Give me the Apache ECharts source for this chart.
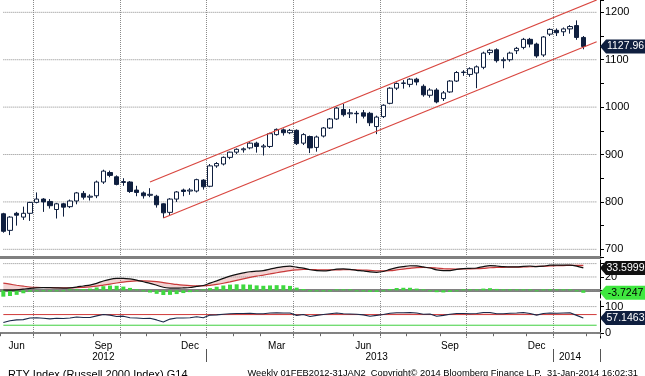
<!DOCTYPE html>
<html>
<head>
<meta charset="utf-8">
<title>RTY Index weekly</title>
<script src="https://cdn.jsdelivr.net/npm/echarts@6/dist/echarts.min.js"></script>
<style>
html, body { margin: 0; padding: 0; background: #fff; }
#main { width: 645px; height: 376px; }
</style>
</head>
<body>
<div id="main"></div>
<script>
// weekly bars (friday dates), two empty weeks of space on the right
var weeks = [
  '2012-06-01','2012-06-08','2012-06-15','2012-06-22','2012-06-29','2012-07-06','2012-07-13','2012-07-20','2012-07-27','2012-08-03',
  '2012-08-10','2012-08-17','2012-08-24','2012-08-31','2012-09-07','2012-09-14','2012-09-21','2012-09-28','2012-10-05','2012-10-12',
  '2012-10-19','2012-10-26','2012-11-02','2012-11-09','2012-11-16','2012-11-23','2012-11-30','2012-12-07','2012-12-14','2012-12-21',
  '2012-12-28','2013-01-04','2013-01-11','2013-01-18','2013-01-25','2013-02-01','2013-02-08','2013-02-15','2013-02-22','2013-03-01',
  '2013-03-08','2013-03-15','2013-03-22','2013-03-29','2013-04-05','2013-04-12','2013-04-19','2013-04-26','2013-05-03','2013-05-10',
  '2013-05-17','2013-05-24','2013-05-31','2013-06-07','2013-06-14','2013-06-21','2013-06-28','2013-07-05','2013-07-12','2013-07-19',
  '2013-07-26','2013-08-02','2013-08-09','2013-08-16','2013-08-23','2013-08-30','2013-09-06','2013-09-13','2013-09-20','2013-09-27',
  '2013-10-04','2013-10-11','2013-10-18','2013-10-25','2013-11-01','2013-11-08','2013-11-15','2013-11-22','2013-11-29','2013-12-06',
  '2013-12-13','2013-12-20','2013-12-27','2014-01-03','2014-01-10','2014-01-17','2014-01-24','2014-01-31','2014-02-07','2014-02-14'
];

var opens = [
  775,740,776,768,776,799,806,801,784,796,
  790,802,818,810,813,842,862,853,841,842,
  825,819,814,812,796,778,806,825,823,823,
  846,833,876,880,894,905,910,914,924,916,
  917,942,952,946,951,924,938,915,939,956,
  975,995,986,987,988,987,959,980,1008,1040,
  1050,1048,1059,1044,1025,1036,1018,1032,1055,1073,
  1069,1072,1084,1115,1121,1098,1100,1119,1126,1143,
  1133,1110,1154,1162,1159,1165,1172,1147
];
var closes = [
  738,768,772,776,799,806,800,792,796,789,
  802,819,810,812,842,865,856,837,843,822,
  820,813,816,794,777,806,821,822,825,847,
  832,876,881,894,905,911,912,924,917,918,
  944,953,946,951,923,942,914,937,956,975,
  998,984,988,986,981,967,979,1004,1040,1050,
  1051,1059,1053,1026,1036,1011,1030,1055,1073,1074,
  1081,1085,1114,1120,1098,1100,1114,1124,1143,1133,
  1108,1148,1164,1157,1165,1170,1147,1127.96
];
var lows = [
  735,730,750,762,760,797,779,786,765,769,
  787,795,805,803,808,838,852,835,834,819,
  812,807,810,788,766,771,800,812,815,820,
  826,831,872,877,890,901,904,911,904,898,
  914,940,940,943,920,920,903,906,936,954,
  973,980,977,966,976,960,943,977,1006,1036,
  1039,1042,1046,1022,1020,1008,1013,1030,1053,1066,
  1064,1040,1080,1110,1094,1082,1096,1112,1122,1126,
  1104,1106,1150,1150,1150,1155,1142,1122
];
var highs = [
  777,770,779,790,800,820,808,806,798,798,
  805,821,823,816,845,868,866,856,850,844,
  834,822,829,815,797,808,823,828,829,849,
  848,880,884,896,906,913,915,926,927,922,
  946,955,955,954,953,945,940,940,958,977,
  1000,1007,996,992,994,990,982,1006,1042,1052,
  1057,1061,1062,1048,1040,1040,1034,1057,1076,1078,
  1084,1088,1117,1123,1124,1105,1117,1127,1146,1146,
  1136,1150,1166,1166,1168,1173,1183,1150
];

// trend channel drawn on the chart
var channelUpper = [['2012-11-02', 842], ['2014-02-14', 1226]];
var channelLower = [['2012-11-16', 766], ['2014-02-14', 1138]];

// MACD panel
var macdLine = [
  0.5,0.3,0.8,1.8,3.0,3.8,4.0,3.9,3.6,3.4,
  3.8,5.0,6.5,7.8,10.5,14.0,16.5,17.8,18.0,17.0,
  15.2,12.8,10.5,7.6,4.6,3.4,3.2,3.6,4.2,5.8,
  7.2,10.8,14.2,17.8,21.2,24.0,26.0,27.8,28.6,29.6,
  31.8,34.0,35.6,36.2,34.6,33.2,30.8,29.4,29.2,30.0,
  31.6,32.0,31.4,30.0,29.0,27.6,27.0,28.2,31.4,34.0,
  35.6,36.8,36.6,35.0,33.4,30.6,29.4,29.6,31.4,32.6,
  33.0,33.4,35.6,37.0,36.4,35.4,35.2,35.0,36.0,36.4,
  35.4,36.2,37.6,37.8,37.6,37.6,36.2,33.5999
];
var signalLine = [
  10.8,9.2,7.6,6.2,5.0,4.4,4.2,4.0,3.8,3.7,
  3.7,4.0,4.5,5.2,6.2,7.8,9.4,11.0,12.4,13.4,
  14.0,14.2,13.8,12.9,11.6,10.2,8.8,7.7,6.9,6.6,
  6.7,7.5,8.8,10.6,12.7,15.0,17.2,19.3,21.2,22.8,
  24.5,26.3,28.0,29.6,30.6,31.2,31.2,30.9,30.7,30.5,
  30.6,30.8,30.9,30.8,30.4,29.9,29.3,29.0,29.4,30.5,
  31.8,33.0,34.0,34.2,34.1,33.4,32.6,32.0,31.8,31.9,
  32.1,32.4,33.0,33.8,34.3,34.5,34.6,34.7,35.0,35.3,
  35.8,36.0,36.4,36.8,37.1,37.3,37.4,37.3
];
var macdHist = [
  -9.5,-8.5,-6.8,-4.4,-2.0,-0.6,-0.2,-0.1,-0.2,-0.3,
  0.1,1.0,2.0,2.6,4.3,6.2,7.1,6.8,5.6,3.6,
  1.2,-1.4,-3.3,-5.3,-7.0,-6.8,-5.6,-4.1,-2.7,-0.8,
  0.5,3.3,5.4,7.2,8.5,9.0,8.8,8.5,7.4,6.8,
  7.3,7.7,7.6,6.6,4.0,2.0,-0.4,-1.5,-1.5,-0.5,
  1.0,1.2,0.5,-0.8,-1.4,-2.3,-2.3,-0.8,2.0,3.5,
  3.8,3.8,2.6,0.8,-0.7,-2.8,-3.2,-2.4,-0.4,0.7,
  0.9,1.0,2.6,3.2,2.1,0.9,0.6,0.3,1.0,1.1,
  -0.4,0.2,1.2,1.0,0.5,0.3,-1.2,-3.7247
];

// RSI panel
var rsiLine = [
  40,47,50,51,57,58,56,54,56,55,
  57,61,59,59,65,70,68,63,64,58,
  57,55,56,50,42,53,57,57,58,62,
  58,68,69,71,73,74,74,75,73,73,
  76,77,76,76,67,70,63,67,70,73,
  76,73,72,71,69,64,67,70,75,77,
  77,78,76,71,72,64,67,71,74,74,
  73,74,78,78,73,73,75,76,78,74,
  68,74,76,75,76,77,67,57.1463
];
var rsiHigh = 70;
var rsiLow = 30;

// grid levels and labels
var priceGrid = [700, 800, 900, 1000, 1100, 1200];
var macdGrid = [0, 20, 40];
var macdLabels = [20];
var rsiGrid = [0, 100];
var monthNames = ['Jan','Feb','Mar','Apr','May','Jun','Jul','Aug','Sep','Oct','Nov','Dec'];
var monthLabelWeeks = ['2012-06-15','2012-09-14','2012-12-14','2013-03-15','2013-06-14','2013-09-13','2013-12-13'];
var yearLabelWeeks = ['2012-09-14','2013-06-28','2014-01-17'];

var GRID_RIGHT = 45;
var FONT = '"Liberation Sans", Arial, sans-serif';
var NAVY = '#0f1f3f';
var DOT_COLOR = '#8a8a8a';

function monthOf(d) { return parseInt(d.substr(5, 2), 10); }
function dayOf(d) { return parseInt(d.substr(8, 2), 10); }
function monthStart(i, d) { return dayOf(d) <= 7; }
function quarterStart(i, d) { var m = monthOf(d); return dayOf(d) <= 7 && (m == 1 || m == 4 || m == 7 || m == 10); }
function yearStart(i, d) { return dayOf(d) <= 7 && monthOf(d) == 1; }

var candles = [];
for (var i = 0; i < opens.length; i++) {
  candles.push([opens[i], closes[i], lows[i], highs[i]]);
}
var firstWeek = weeks[0];
var lastWeek = weeks[weeks.length - 1];

// fill between macd and signal
function macdBand(params, api) {
  var pts = [];
  for (var i = 0; i < macdLine.length; i++) pts.push(api.coord([i, macdLine[i]]));
  for (var j = signalLine.length - 1; j >= 0; j--) pts.push(api.coord([j, signalLine[j]]));
  return { type: 'polygon', shape: { points: pts }, style: { fill: 'rgba(214,110,110,0.30)' }, silent: true };
}

// fill where rsi is above the upper band
function rsiBand(params, api) {
  var y70 = api.coord([0, rsiHigh])[1];
  var pts = [];
  var prev = null;
  for (var i = 0; i < rsiLine.length; i++) {
    var p = api.coord([i, rsiLine[i]]);
    if (prev && (prev[1] - y70) * (p[1] - y70) < 0) {
      var t = (y70 - prev[1]) / (p[1] - prev[1]);
      pts.push([prev[0] + t * (p[0] - prev[0]), y70]);
    }
    pts.push([p[0], Math.min(p[1], y70)]);
    prev = p;
  }
  pts.push([pts[pts.length - 1][0], y70]);
  pts.unshift([pts[0][0], y70]);
  return { type: 'polygon', shape: { points: pts }, style: { fill: 'rgba(214,110,110,0.30)' }, silent: true };
}

// flat line across a panel at one level
function levelLine(axisIndex, value, color, type) {
  return {
    type: 'line', xAxisIndex: axisIndex, yAxisIndex: axisIndex, symbol: 'none', silent: true, z: 2,
    data: [[firstWeek, value], [lastWeek, value]],
    lineStyle: { color: color, width: 1, type: type || 'solid' }
  };
}

// value axis on the right; min/max are the panel edges
function valueAxis(gridIndex, min, max, splitNumber, minorSplit, labels) {
  return {
    type: 'value', gridIndex: gridIndex, position: 'right',
    min: min, max: max, splitNumber: splitNumber,
    axisLine: { show: true, lineStyle: { color: '#000', width: 1 } },
    axisTick: { show: true, inside: false, length: 4, lineStyle: { color: '#000' } },
    minorTick: { show: minorSplit > 0, splitNumber: minorSplit || 2, length: 4, lineStyle: { color: '#000' } },
    axisLabel: { color: '#000', fontSize: 11, fontFamily: FONT, margin: 5,
      showMinLabel: false, showMaxLabel: false,
      formatter: function (v) { return labels.indexOf(v) >= 0 ? String(v) : ''; } },
    splitLine: { show: false }
  };
}

function catAxis(gridIndex, lineWidth) {
  return {
    type: 'category', gridIndex: gridIndex, data: weeks, boundaryGap: true,
    axisLine: { show: true, lineStyle: { color: '#808080', width: lineWidth } },
    axisTick: { show: false },
    axisLabel: { show: false },
    splitLine: { show: true, interval: quarterStart, lineStyle: { color: DOT_COLOR, type: 'dotted', width: 1 } }
  };
}

var myChart = echarts.init(document.getElementById('main'), null, { renderer: 'canvas' });

var xBottom = catAxis(2, 2);
xBottom.axisTick = { show: true, interval: monthStart, length: 3, lineStyle: { color: '#666' } };
xBottom.axisLabel = {
  show: true, color: '#000', fontSize: 10, fontFamily: FONT, margin: 3,
  interval: function (i, d) { return monthLabelWeeks.indexOf(d) >= 0; },
  formatter: function (d) { return monthNames[monthOf(d) - 1]; }
};

var series = [];
priceGrid.forEach(function (v) { series.push(levelLine(0, v, DOT_COLOR, 'dotted')); });
macdGrid.forEach(function (v) { series.push(levelLine(1, v, DOT_COLOR, 'dotted')); });
rsiGrid.forEach(function (v) { series.push(levelLine(2, v, DOT_COLOR, 'dotted')); });

series.push(
  {
    name: 'RTY', type: 'candlestick', xAxisIndex: 0, yAxisIndex: 0,
    data: candles, barWidth: 5, z: 3,
    itemStyle: { color: '#ffffff', color0: NAVY, borderColor: NAVY, borderColor0: NAVY, borderWidth: 1 }
  },
  {
    name: 'channel top', type: 'line', xAxisIndex: 0, yAxisIndex: 0,
    data: channelUpper, symbol: 'none', lineStyle: { color: '#d9463f', width: 1.2 }, z: 4
  },
  {
    name: 'channel bottom', type: 'line', xAxisIndex: 0, yAxisIndex: 0,
    data: channelLower, symbol: 'none', lineStyle: { color: '#d9463f', width: 1.2 }, z: 4
  },
  {
    name: 'macd band', type: 'custom', xAxisIndex: 1, yAxisIndex: 1,
    data: [[0, 0]], renderItem: macdBand, z: 1, silent: true
  },
  {
    name: 'hist', type: 'bar', xAxisIndex: 1, yAxisIndex: 1,
    data: macdHist, barWidth: 4, barMinHeight: 1,
    itemStyle: { color: '#3fd83f' }, z: 3
  },
  {
    name: 'signal', type: 'line', xAxisIndex: 1, yAxisIndex: 1,
    data: signalLine, symbol: 'none', smooth: 0.3,
    lineStyle: { color: '#c83a3a', width: 1.2 }, z: 3
  },
  {
    name: 'macd', type: 'line', xAxisIndex: 1, yAxisIndex: 1,
    data: macdLine, symbol: 'none', smooth: 0.3,
    lineStyle: { color: '#111', width: 1.2 }, z: 4
  },
  {
    name: 'rsi band', type: 'custom', xAxisIndex: 2, yAxisIndex: 2,
    data: [[0, 0]], renderItem: rsiBand, z: 1, silent: true
  },
  levelLine(2, rsiHigh, '#d03a3a'),
  levelLine(2, rsiLow, '#3fcf3f'),
  {
    name: 'rsi', type: 'line', xAxisIndex: 2, yAxisIndex: 2,
    data: rsiLine, symbol: 'none',
    lineStyle: { color: '#1b2a4a', width: 1.1 }, z: 4
  }
);

var option = {
  animation: false,
  backgroundColor: '#fff',
  title: [
    { text: 'RTY Index (Russell 2000 Index) G14', left: 3, top: 364,
      textStyle: { fontSize: 11, fontWeight: 'normal', color: '#000', fontFamily: FONT } },
    { text: 'Weekly 01FEB2012-31JAN2  Copyright\u00a9 2014 Bloomberg Finance L.P.  31-Jan-2014 16:02:31',
      right: 2, top: 364, textStyle: { fontSize: 9.3, fontWeight: 'normal', color: '#000', fontFamily: FONT } }
  ],
  grid: [
    { left: -2, right: GRID_RIGHT, top: 0, height: 257 },
    { left: -2, right: GRID_RIGHT, top: 260, height: 38 },
    { left: -2, right: GRID_RIGHT, top: 301, height: 37 }
  ],
  xAxis: [
    catAxis(0, 3),
    catAxis(1, 3),
    xBottom,
    {
      type: 'category', gridIndex: 2, data: weeks, boundaryGap: true, position: 'bottom', offset: 11,
      axisLine: { show: false },
      axisTick: { show: true, interval: yearStart, length: 13, lineStyle: { color: '#555' } },
      axisLabel: {
        show: true, color: '#000', fontSize: 10, fontFamily: FONT, margin: 3,
        interval: function (i, d) { return yearLabelWeeks.indexOf(d) >= 0; },
        formatter: function (d) { return d.substr(0, 4); }
      },
      splitLine: { show: false }
    }
  ],
  yAxis: [
    valueAxis(0, 683.8, 1226, 5, 2, priceGrid),
    valueAxis(1, -11.5, 45.4, 3, 0, macdLabels),
    valueAxis(2, -18, 121, 1, 0, rsiGrid)
  ],
  series: series
};

myChart.setOption(option);

// value tags on the right axis
function tag(yAxisIndex, value, text, fill, textColor) {
  var y = myChart.convertToPixel({ yAxisIndex: yAxisIndex }, value);
  var x0 = myChart.getWidth() - GRID_RIGHT;
  var x1 = myChart.getWidth();
  return {
    type: 'group', z: 100, children: [
      { type: 'polygon', z: 100, shape: { points: [[x0, y], [x0 + 6, y - 7], [x1, y - 7], [x1, y + 7], [x0 + 6, y + 7]] },
        style: { fill: fill } },
      { type: 'text', z: 101, x: (x0 + 6 + x1) / 2, y: y,
        style: { text: text, fill: textColor, font: '10.5px ' + FONT, align: 'center', verticalAlign: 'middle', textAlign: 'center', textVerticalAlign: 'middle' } }
    ]
  };
}

var last = closes.length - 1;
myChart.setOption({
  graphic: [
    tag(0, closes[last], closes[last].toFixed(2), NAVY, '#fff'),
    tag(1, macdLine[last], macdLine[last].toFixed(4), '#111', '#fff'),
    tag(1, macdHist[last], macdHist[last].toFixed(4), '#3fe83f', '#000'),
    tag(2, rsiLine[last], rsiLine[last].toFixed(4), NAVY, '#fff')
  ]
});
</script>
</body>
</html>
